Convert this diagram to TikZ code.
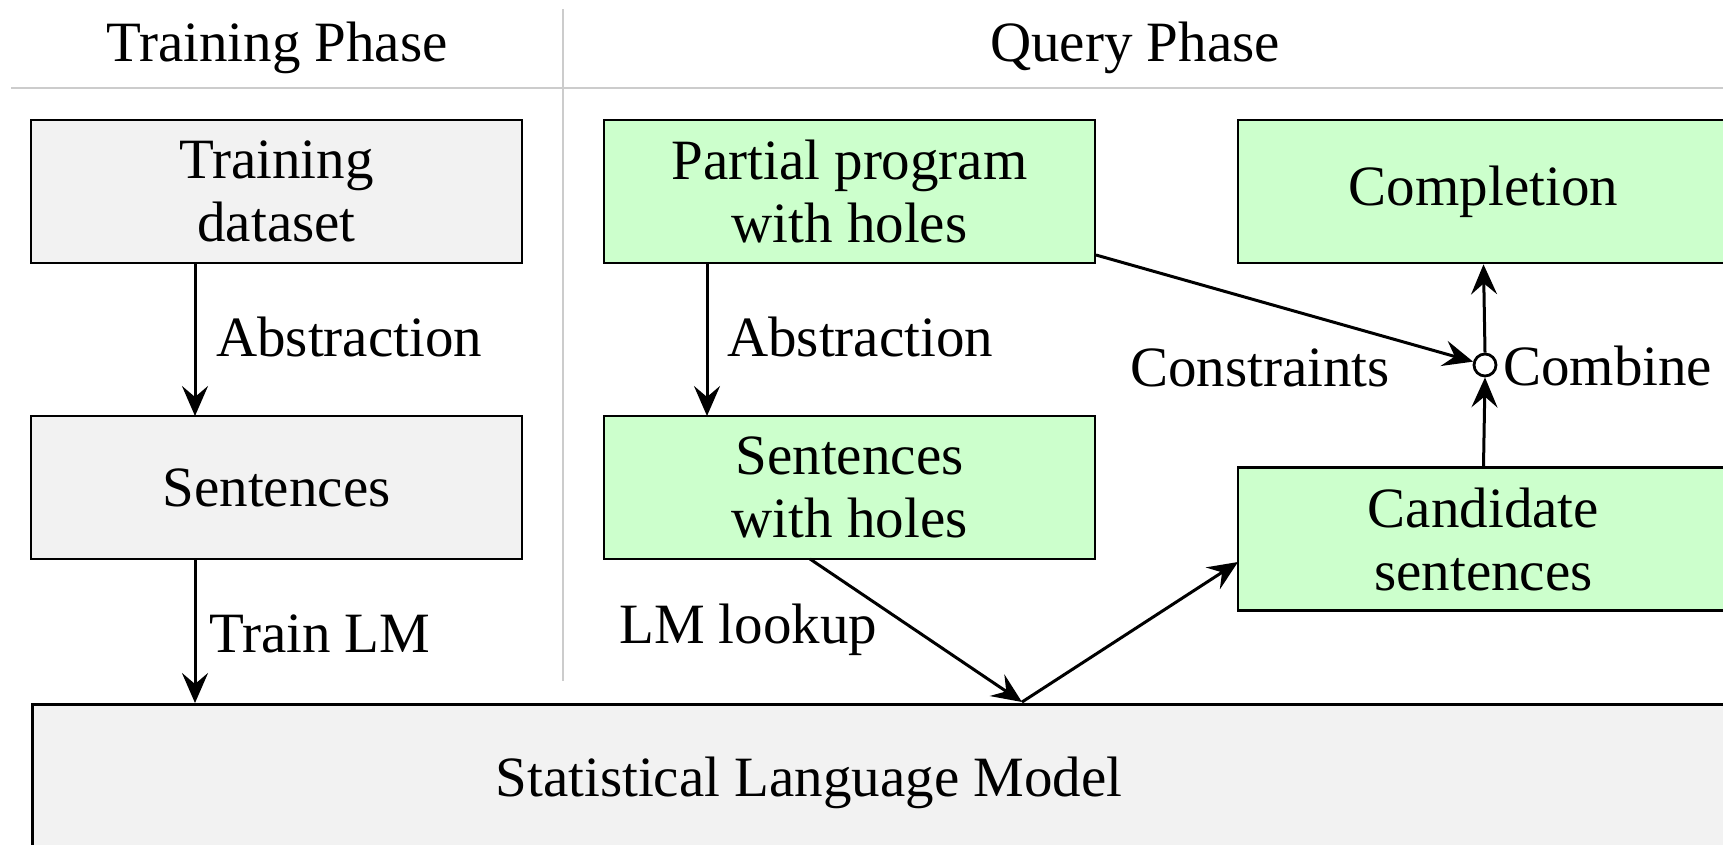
\documentclass[tikz,border=0pt]{standalone}
\usepackage{fontspec}
\setmainfont{Liberation Serif}
\usetikzlibrary{arrows.meta}
\definecolor{boxgray}{HTML}{F2F2F2}
\definecolor{boxgreen}{HTML}{CCFFCC}
\definecolor{rulegray}{HTML}{CCCCCC}
\begin{document}
\begin{tikzpicture}[x=1pt,y=-1pt,
  every node/.style={font=\fontsize{57}{63}\selectfont},
  box/.style={draw=black,line width=2.7pt,minimum width=491pt,minimum height=143pt,align=center,inner sep=0pt},
  graybox/.style={box,fill=boxgray},
  greenbox/.style={box,fill=boxgreen},
  arr/.style={line width=3pt,-{Stealth[length=30pt,width=26pt,inset=11pt]}},
  lbl/.style={anchor=west,inner sep=0pt},
  sep/.style={draw=rulegray,line width=2.6pt}]
\useasboundingbox (0,0) rectangle (1723,844);
\clip (0,0) rectangle (1723,844);
% separators
\draw[sep] (11,88) -- (1723,88);
\draw[sep] (563,9) -- (563,681);
\node (ttrain) at (277,48) {Training Phase};
\node (tquery) at (1135,48) {Query Phase};
% boxes
\node[graybox] (tdata) at (276.5,191.5) {Training\\dataset};
\node[graybox] (sentL) at (276.5,487.5) {Sentences};
\node[greenbox] (partial) at (849.5,191.5) {Partial program\\with holes};
\node[greenbox] (senth) at (849.5,487.5) {Sentences\\with holes};
\node[greenbox] (compl) at (1483.5,191.5) {Completion};
\node[greenbox] (cand) at (1483.5,539) {Candidate\\sentences};
\node[graybox,minimum width=1720pt,minimum height=200pt,anchor=north west] (slm) at (31,703) {};
\node (slmtext) at (809,783) {Statistical Language Model};
\node[circle,draw=black,fill=white,line width=2.8pt,inner sep=0pt,minimum size=22pt] (comb) at (1485,365) {};
\node[lbl] (combl) at (1503,366) {Combine};
% coordinates
\coordinate (a1s) at (195,263);
\coordinate (a1e) at (195,416);
\coordinate (a2s) at (195,559);
\coordinate (a2e) at (195,703);
\coordinate (a3s) at (707,263);
\coordinate (a3e) at (707,416);
\coordinate (lks) at (810,559);
\coordinate (lke) at (1022,702);
\coordinate (cas) at (1022,702);
\coordinate (cae) at (1238,562);
\coordinate (cos) at (1096,255);
% arrows
\draw[arr] (a1s) -- (a1e);
\draw[arr] (a2s) -- (a2e);
\draw[arr] (a3s) -- (a3e);
\draw[arr] (lks) -- (lke);
\draw[arr] (cas) -- (cae);
\draw[arr] (cos) -- (comb);
\draw[arr] (cand.north) -- (comb.south);
\draw[arr] (comb.north) -- (compl.south);
% labels
\node[lbl] (l1) at (216,337) {Abstraction};
\node[lbl] (l2) at (209,634) {Train LM};
\node[lbl] (l3) at (727,337) {Abstraction};
\node[lbl] (l4) at (619,630) {LM lookup};
\node[lbl] (l5) at (1130,368) {Constraints};
\end{tikzpicture}
\end{document}
